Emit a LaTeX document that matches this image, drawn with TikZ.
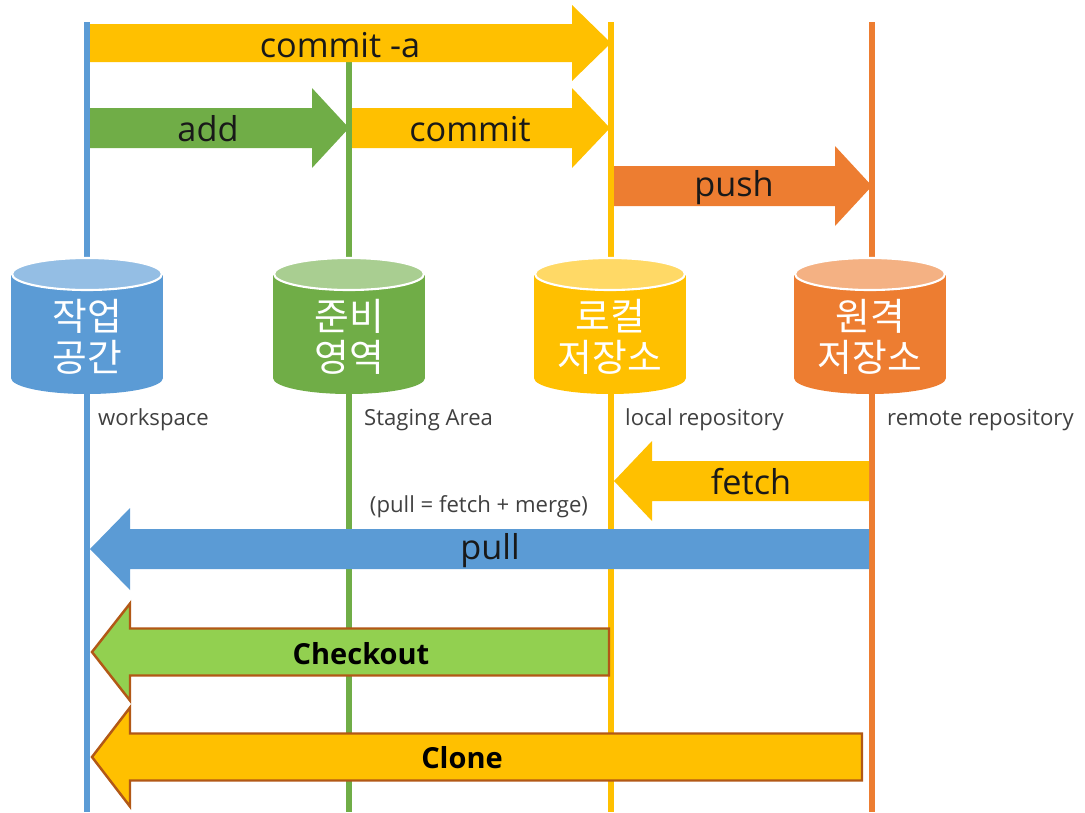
\documentclass[tikz,border=0pt]{standalone}
\usepackage{fontspec}
\setmainfont{Open Sans}
\newfontfamily\krfont{Noto Sans CJK KR}

\definecolor{wsblue}{HTML}{5B9BD5}
\definecolor{stgreen}{HTML}{70AD47}
\definecolor{lcyellow}{HTML}{FFC000}
\definecolor{rmorange}{HTML}{ED7D31}
\definecolor{colightgreen}{HTML}{92D050}
\definecolor{cobrown}{RGB}{178,88,22}

% fat arrow: style, x start, x head base, x tip, y centre, shaft half, head half
\newcommand{\blockarrow}[7]{%
  \path[#1] (#2,#5-#6) -- (#3,#5-#6) -- (#3,#5-#7) -- (#4,#5)
    -- (#3,#5+#7) -- (#3,#5+#6) -- (#2,#5+#6) -- cycle;}

% database drum: x centre, top colour, body colour
\newcommand{\dbdrum}[3]{%
  \fill[#3] (#1-76,274) rectangle (#1+76,378);
  \fill[#3] (#1,378) ellipse [x radius=76, y radius=16];
  \filldraw[fill=#2, draw=white, line width=1.2pt] (#1,274) ellipse [x radius=75, y radius=16];}

\begin{document}
\begin{tikzpicture}[x=0.02cm, y=-0.02cm,
  lane/.style={line width=3.4pt},
  optext/.style={font=\fontsize{19.5}{22}\selectfont, text=black!90},
  drumtext/.style={font=\krfont\fontsize{21.5}{23.5}\selectfont, text=white, align=center},
  areatext/.style={font=\fontsize{12.6}{14}\selectfont, text=black!75, anchor=west},
  boldtext/.style={font=\bfseries\fontsize{16.5}{19}\selectfont, text=black}]

  \useasboundingbox (0,0) rectangle (1085,812);

  % lanes
  \draw[lane, wsblue] (87,22) -- (87,812);
  \draw[lane, stgreen] (349,62) -- (349,812);
  \draw[lane, lcyellow] (611,22) -- (611,812);
  \draw[lane, rmorange] (872,22) -- (872,812);

  % drums
  \dbdrum{87}{wsblue!65!white}{wsblue}
  \dbdrum{349}{stgreen!60!white}{stgreen}
  \dbdrum{610}{lcyellow!60!white}{lcyellow}
  \dbdrum{870}{rmorange!60!white}{rmorange}

  \node[drumtext] (ws) at (87,337) {작업\\공간};
  \node[drumtext] (stage) at (349,337) {준비\\영역};
  \node[drumtext] (local) at (610,337) {로컬\\저장소};
  \node[drumtext] (remote) at (870,337) {원격\\저장소};

  \node[areatext] (wslabel) at (92,420) {workspace};
  \node[areatext] (stlabel) at (358,420) {Staging Area};
  \node[areatext] (lclabel) at (619,420) {local repository};
  \node[areatext] (rmlabel) at (881,420) {remote repository};

  % upward arrows
  \blockarrow{fill=lcyellow}{90}{572}{611}{43}{19}{38}
  \node[optext] (commitall) at (340,45) {commit -a};
  \blockarrow{fill=stgreen}{90}{312}{349}{128}{20}{40}
  \node[optext] (add) at (208,129) {add};
  \blockarrow{fill=lcyellow}{352}{572}{610}{128}{20}{40}
  \node[optext] (commit) at (470,129) {commit};
  \blockarrow{fill=rmorange}{614}{835}{872}{186}{20}{40}
  \node[optext] (push) at (734,188) {push};

  % downward arrows
  \blockarrow{fill=lcyellow}{869}{652}{614}{481}{20}{40}
  \node[optext] (fetch) at (751,482) {fetch};
  \node[areatext, font=\fontsize{12.6}{14}\selectfont, anchor=center] (pullnote) at (479,507) {(pull = fetch + merge)};
  \blockarrow{fill=wsblue}{869}{130}{90}{549}{20}{41}
  \node[optext] (pull) at (490,551) {pull};

  \blockarrow{fill=colightgreen, draw=cobrown, line width=1.4pt}{609}{130}{92}{652}{23.5}{48.5}
  \node[boldtext] (checkout) at (361,654) {Checkout};
  \blockarrow{fill=lcyellow, draw=cobrown, line width=1.4pt}{862}{130}{92}{757}{23.5}{49.5}
  \node[boldtext] (clone) at (462,758) {Clone};
\end{tikzpicture}
\end{document}
